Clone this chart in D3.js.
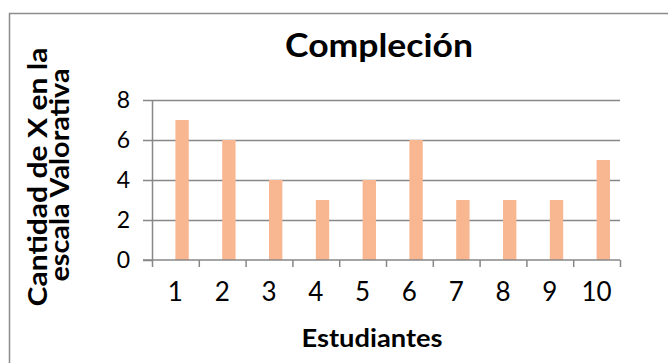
<!DOCTYPE html>
<html>
<head>
<meta charset="utf-8">
<script src="https://cdn.jsdelivr.net/npm/d3@7"></script>
<style>
  body { margin: 0; background: #fff; }
  svg { display: block; }
  .axis text { font-family: Lato, "Open Sans", sans-serif; fill: #000; }
  .axis path, .axis line { stroke: #878787; stroke-width: 1.5px; }
  .grid line { stroke: #878787; stroke-width: 1.5px; }
  .grid path { stroke: none; }
  .ttl { font-family: Lato, "Open Sans", sans-serif; font-weight: bold; fill: #000; }
</style>
</head>
<body>
<div id="chart"></div>
<script>
// data
var estudiantes = ["1", "2", "3", "4", "5", "6", "7", "8", "9", "10"];
var series = ["Serie1", "Serie2"];          // Serie1 is empty in the original sheet
var completion = [7, 6, 4, 3, 4, 6, 3, 3, 3, 5];
var yTicks = [0, 2, 4, 6, 8];

var W = 668, H = 363;
var margin = {top: 100, right: 48, bottom: 103, left: 152};
var w = W - margin.left - margin.right,
    h = H - margin.top - margin.bottom;

var svg = d3.select("#chart").append("svg")
    .attr("width", W)
    .attr("height", H);

// outer chart border (runs off the right / bottom of the picture)
svg.append("rect")
    .attr("x", 9.5).attr("y", 13.5)
    .attr("width", 720).attr("height", 420)
    .attr("fill", "#fff")
    .attr("stroke", "#8c8c8c")
    .attr("stroke-width", 1.5);

var g = svg.append("g")
    .attr("transform", "translate(" + margin.left + "," + margin.top + ")");

var x = d3.scaleBand().domain(estudiantes).range([0, w]);
var xs = d3.scaleBand().domain(series).range([0, x.bandwidth()])
    .paddingInner(0).paddingOuter(0.75);
var xEdge = d3.scaleLinear().domain([0, estudiantes.length]).range([0, w]);
var y = d3.scaleLinear().domain([0, 8]).range([h, 0]);

// gridlines
g.append("g")
    .attr("class", "grid")
    .call(d3.axisLeft(y).tickValues(yTicks.slice(1)).tickSize(-w).tickFormat(""));

// bars
g.append("g").selectAll("rect")
    .data(completion)
    .enter().append("rect")
    .attr("x", function(d, i) { return x(estudiantes[i]) + xs("Serie2"); })
    .attr("y", function(d) { return y(d); })
    .attr("width", xs.bandwidth())
    .attr("height", function(d) { return h - y(d); })
    .attr("fill", "#f9b791");

// y axis
var ya = g.append("g")
    .attr("class", "axis")
    .call(d3.axisLeft(y).tickValues(yTicks).tickSize(9).tickSizeOuter(0).tickPadding(13));
ya.selectAll("text").style("font-size", "23px");

// x axis: ticks on category edges
var xa = g.append("g")
    .attr("class", "axis")
    .attr("transform", "translate(0," + h + ")")
    .call(d3.axisBottom(xEdge).tickValues(d3.range(estudiantes.length + 1))
      .tickSize(7).tickSizeOuter(0).tickFormat(""));
xa.select(".domain").attr("d", "M-9,0H" + w);

var xl = g.append("g")
    .attr("class", "axis")
    .attr("transform", "translate(0," + h + ")")
    .call(d3.axisBottom(x).tickSize(0).tickPadding(23));
xl.select(".domain").remove();
xl.selectAll("text").style("font-size", "26px");

// titles (stretched a bit to the width of the original's wide gothic face)
function title(txt, tx, ty, size, len, rot) {
  svg.append("text")
      .attr("class", "ttl")
      .attr("text-anchor", "middle")
      .attr("transform", "translate(" + tx + "," + ty + ")" + (rot ? " rotate(-90)" : ""))
      .attr("textLength", len)
      .attr("lengthAdjust", "spacingAndGlyphs")
      .style("font-size", size + "px")
      .text(txt);
}
title("Compleción", 379, 57, 32, 188, false);
title("Estudiantes", 372, 347, 25, 141, false);
title("Cantidad de X en la", 47, 177, 26, 259, true);
title("escala Valorativa", 69, 175, 26, 213, true);
</script>
</body>
</html>
